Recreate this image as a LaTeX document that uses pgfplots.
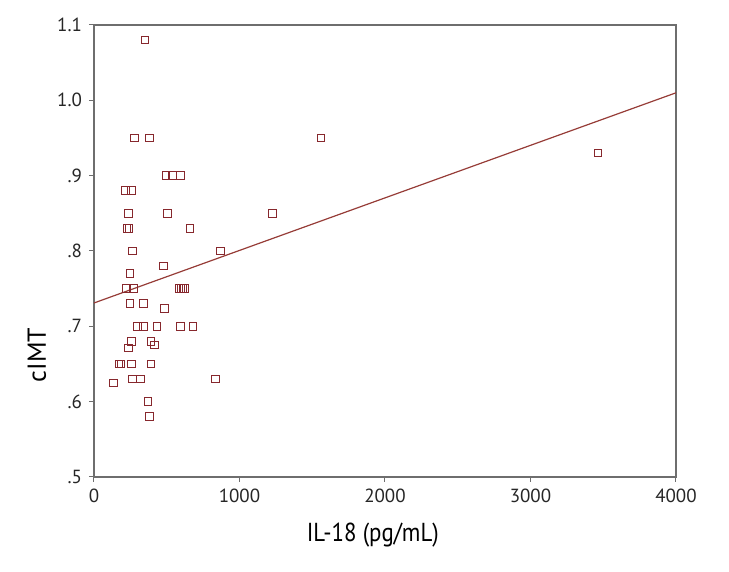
\documentclass[border=0pt]{standalone}
\usepackage{pgfplots}
\pgfplotsset{compat=1.18}
\usepackage{fontspec}
\usepackage{graphicx}
\setmainfont{PT Sans}
\definecolor{markc}{RGB}{135,40,45}
\definecolor{linec}{RGB}{150,60,55}
\definecolor{axc}{RGB}{110,110,110}
\begin{document}
\begin{tikzpicture}
\begin{axis}[
  at={(0,0)}, anchor=south west,
  scale only axis, width=291pt, height=226pt,
  xmin=0, xmax=4000, ymin=0.5, ymax=1.1,
  xtick={0,1000,2000,3000,4000},
  ytick={0.5,0.6,0.7,0.8,0.9,1.0,1.1},
  yticklabels={.5,.6,.7,.8,.9,1.0,1.1},
  scaled x ticks=false,
  xticklabel style={/pgf/number format/1000 sep={}},
  /pgf/number format/assume math mode=true,
  tick align=outside, xtick pos=bottom, ytick pos=left,
  major tick length=2.5pt,
  axis line style={axc, line width=0.6pt},
  tick style={axc, line width=0.5pt},
  ticklabel style={font=\fontsize{9.5}{11}\selectfont, text=black!85},
  xlabel={\scalebox{0.88}[1]{IL-18 (pg/mL)}}, ylabel={cIMT},
  label style={font=\fontsize{13}{15}\selectfont},
  xlabel style={at={(axis description cs:0.479,-0.128)}, anchor=center},
  ylabel style={at={(axis description cs:-0.098,0.27)}, anchor=center},
]
\addplot[only marks, mark=square, mark size=1.9pt, mark options={draw=markc, line width=0.5pt}] coordinates {
(350,1.08) (277,0.95) (380,0.95) (1560,0.95)
(495,0.90) (541,0.90) (596,0.90)
(218,0.88) (259,0.88)
(236,0.85) (506,0.85) (1225,0.85)
(228,0.83) (240,0.83) (660,0.83)
(266,0.80) (868,0.80)
(477,0.78) (247,0.77)
(224,0.75) (270,0.75) (585,0.75) (598,0.75) (611,0.75) (624,0.75)
(247,0.73) (339,0.73) (486,0.724)
(300,0.70) (339,0.70) (433,0.70) (596,0.70) (680,0.70)
(257,0.68) (392,0.68) (415,0.675) (238,0.671)
(172,0.65) (186,0.65) (257,0.65) (392,0.65)
(266,0.63) (321,0.63) (834,0.63) (133,0.625)
(371,0.60) (380,0.58)
(3464,0.93)
};
\addplot[linec, line width=0.6pt, no marks] coordinates {(0,0.731) (4000,1.010)};
\end{axis}
\path[use as bounding box] (-47pt,-47.5pt) rectangle (317.5pt,238.5pt);
\end{tikzpicture}
\end{document}
